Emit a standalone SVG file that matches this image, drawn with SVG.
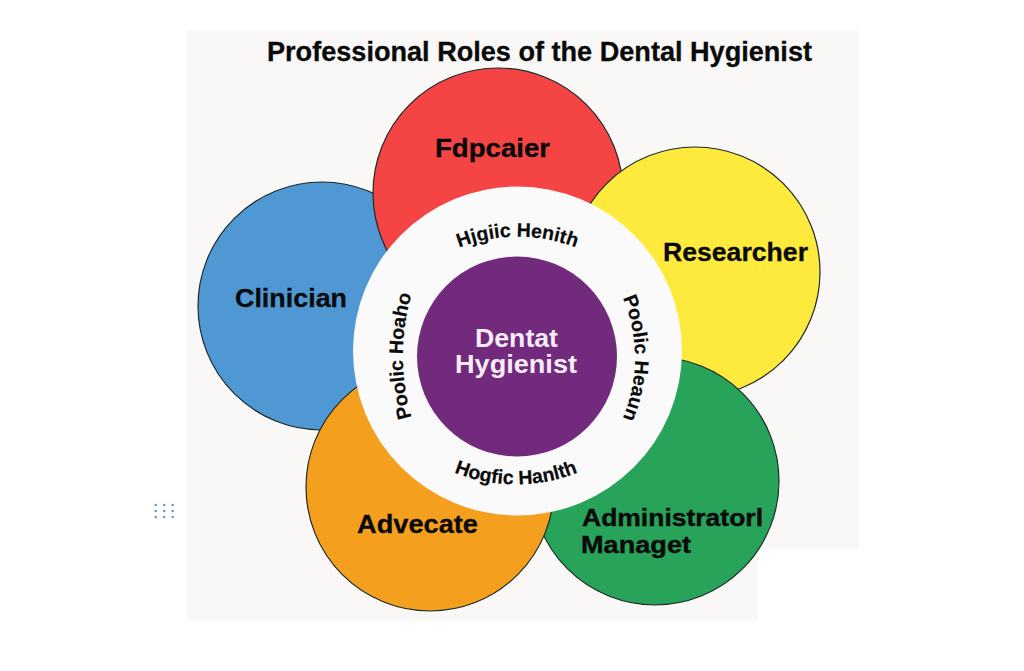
<svg xmlns="http://www.w3.org/2000/svg" width="1024" height="671" viewBox="0 0 1024 671">
<style>
text{font-family:"Liberation Sans",Arial,sans-serif;font-weight:700;fill:#0a0a0a}
.role{font-size:26px;stroke:#0a0a0a;stroke-width:.3}
.role2{font-size:24px;stroke:#0a0a0a;stroke-width:.4}
.ring{font-size:19.5px;text-anchor:middle;stroke:#0a0a0a;stroke-width:.2}
.core{font-size:25px;fill:#f6ecf6;text-anchor:middle}
.c{stroke:#1c2a2a;stroke-width:1.2}
.dot{fill:#6f9fbd}
</style>
<defs>
<path id="arcTop" d="M427.5 264A162 162 0 0 1 607.5 264"/>
<path id="arcRight" d="M606 268A154 154 0 0 1 606 448"/>
<path id="arcBottom" d="M426 458A167 167 0 0 0 606 458"/>
<path id="arcLeft" d="M422 446A221 221 0 0 1 422 266"/>
</defs>
<path id="background" fill="#f9f8f6" d="M187 30H859V549H758V621H187Z"/>
<g id="dots">
<circle class="dot" cx="155.7" cy="505" r="1.3"/><circle class="dot" cx="164.2" cy="505" r="1.3"/><circle class="dot" cx="172.7" cy="505" r="1.3"/>
<circle class="dot" cx="155.7" cy="511" r="1.3"/><circle class="dot" cx="164.2" cy="511" r="1.3"/><circle class="dot" cx="172.7" cy="511" r="1.3"/>
<circle class="dot" cx="155.7" cy="517" r="1.3"/><circle class="dot" cx="164.2" cy="517" r="1.3"/><circle class="dot" cx="172.7" cy="517" r="1.3"/>
</g>
<text id="title" x="267" y="61" font-size="27" stroke="#0a0a0a" stroke-width=".3" textLength="545" lengthAdjust="spacingAndGlyphs">Professional Roles of the Dental Hygienist</text>
<g id="connectors"/>
<g id="clinician"><circle class="c" cx="322" cy="306" r="124" fill="#4f98d3"/><text class="role" x="235" y="307" textLength="112" lengthAdjust="spacingAndGlyphs">Clinician</text></g>
<g id="educator"><circle class="c" cx="498" cy="193" r="125" fill="#f44444"/><text class="role" x="435" y="157" textLength="115" lengthAdjust="spacingAndGlyphs">Fdpcaier</text></g>
<g id="researcher"><circle class="c" cx="695" cy="272" r="125" fill="#fdea3c"/><text class="role" x="663" y="261" textLength="145" lengthAdjust="spacingAndGlyphs">Researcher</text></g>
<g id="administrator"><circle class="c" cx="655" cy="481" r="124" fill="#27a35a"/><text class="role2" x="582" y="526" textLength="181" lengthAdjust="spacingAndGlyphs">Administratorl</text><text class="role2" x="581" y="553" textLength="110" lengthAdjust="spacingAndGlyphs">Managet</text></g>
<g id="advocate"><circle class="c" cx="430" cy="487" r="124" fill="#f4a01e"/><text class="role" x="357" y="533" textLength="121" lengthAdjust="spacingAndGlyphs">Advecate</text></g>
<g id="ring"><circle cx="517.5" cy="351" r="164.5" fill="#fafafa"/>
<text class="ring"><textPath href="#arcTop" startOffset="50%">Hjgiic Henith</textPath></text>
<text class="ring"><textPath href="#arcRight" startOffset="50%">Poolic Heaun</textPath></text>
<text class="ring"><textPath href="#arcBottom" startOffset="50%">Hogfic Hanlth</textPath></text>
<text class="ring"><textPath href="#arcLeft" startOffset="50%">Poolic Hoaho</textPath></text>
</g>
<g id="core"><circle cx="517" cy="356.5" r="100" fill="#722a7c"/><text class="core" x="516.5" y="347" textLength="83" lengthAdjust="spacingAndGlyphs">Dentat</text><text class="core" x="516" y="373" textLength="122" lengthAdjust="spacingAndGlyphs">Hygienist</text></g>
</svg>
